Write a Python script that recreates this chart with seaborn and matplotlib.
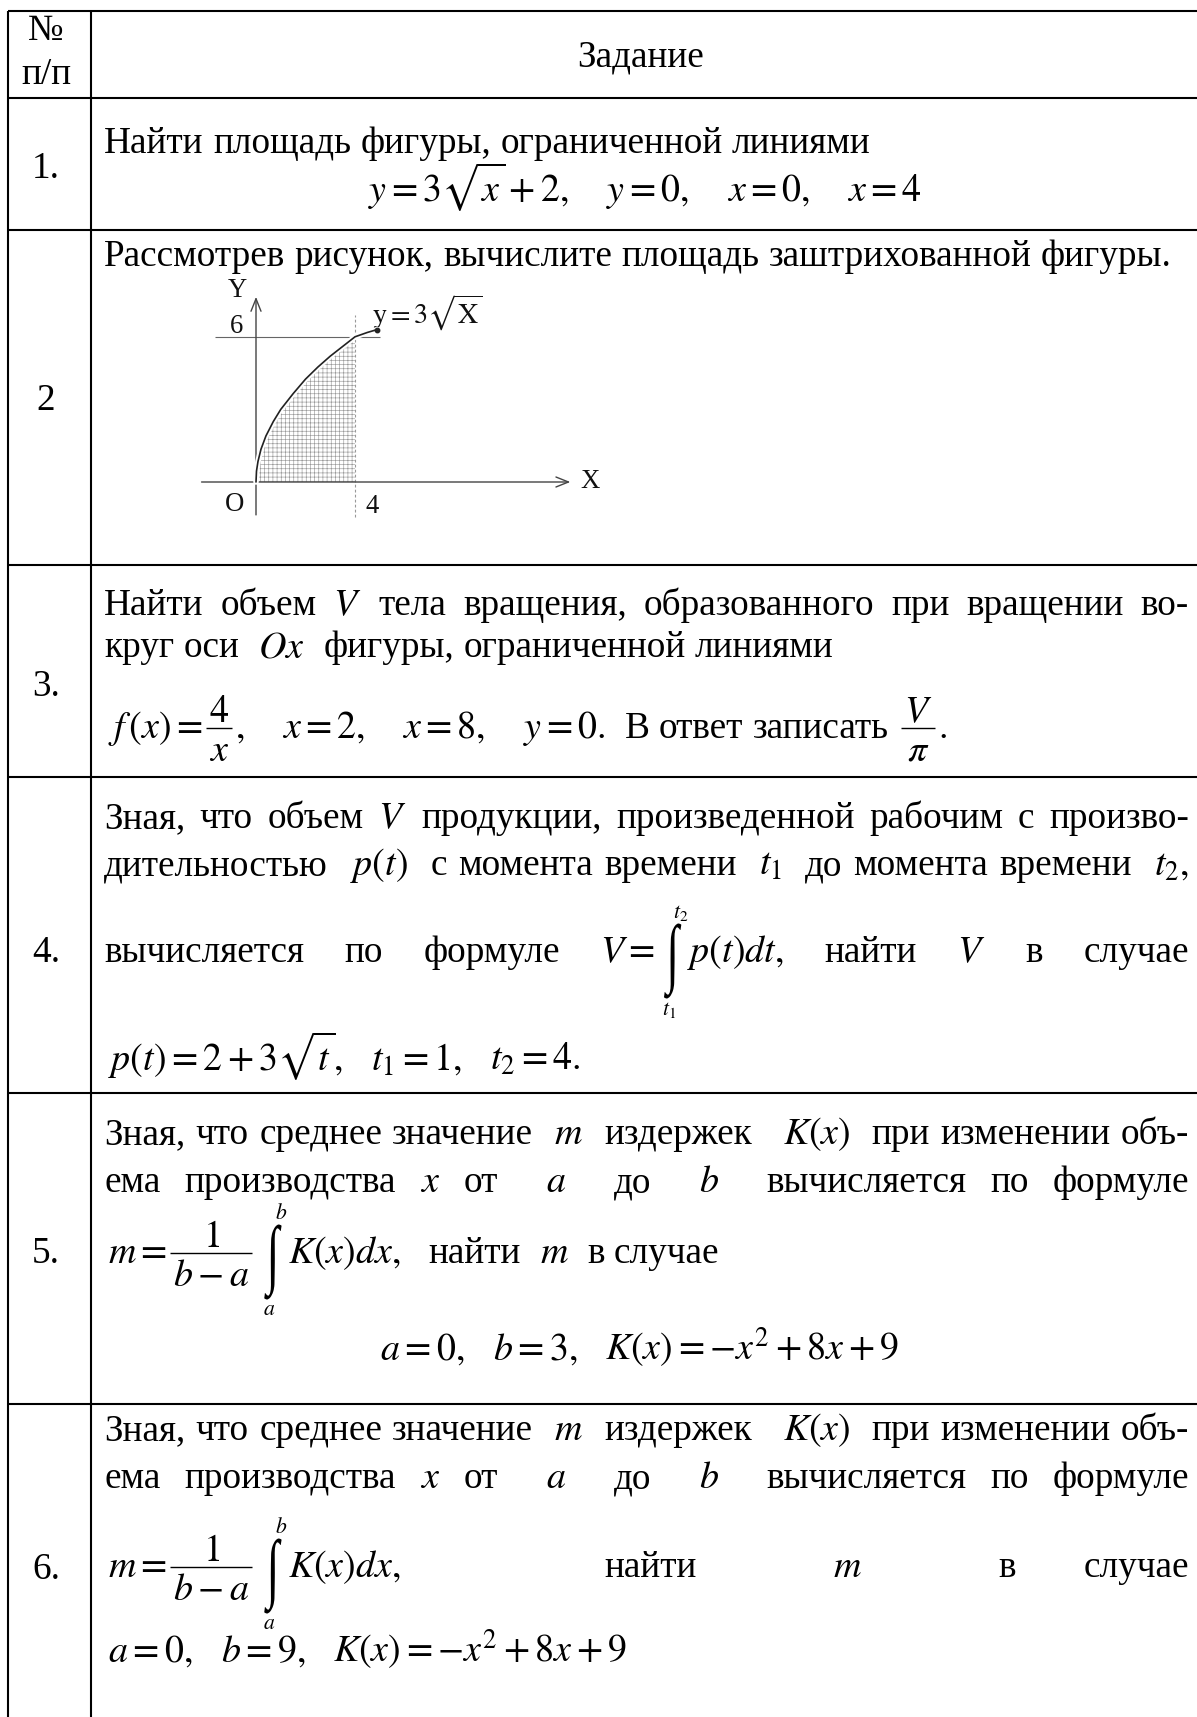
import matplotlib
matplotlib.use("Agg")
import matplotlib.pyplot as plt
import matplotlib.patheffects as pe
from matplotlib.textpath import TextPath
from matplotlib.patches import PathPatch
from matplotlib.transforms import Affine2D
from matplotlib.font_manager import FontProperties, findfont, get_font
import seaborn as sns

# ------------------------------------------------------------------ data
HEADER_NUM = ["№", "п/п"]
HEADER_TASK = "Задание"
ROW_NUMBERS = ["1.", "2", "3.", "4.", "5.", "6."]

TASK_1 = ["Найти площадь фигуры, ограниченной линиями",
          r"$y=3\sqrt{x}+2,$    $y=0,$    $x=0,$    $x=4$"]
TASK_2 = ["Рассмотрев рисунок, вычислите площадь заштрихованной фигуры."]
TASK_3 = [r"Найти объем $V$ тела вращения, образованного при вращении во-",
          r"круг оси  $Ox$  фигуры, ограниченной линиями",
          r"$f\,(x)=\,$|@frac:4,x|$,$    $x=2,$    $x=8,$    $y=0.$  В ответ записать @frac:V,\pi|$.$"]
TASK_4 = [r"Зная, что объем $V$ продукции, произведенной рабочим с произво-",
          r"дительностью  $p(t)$  с момента времени  $t_1$  до момента времени  $t_2,$",
          r"вычисляется по формуле $V=\,$|@int:t_1,t_2|$p(t)dt,$ найти $V$ в случае",
          r"$p(t)=2+3\sqrt{t},$   $t_1=1,$   $t_2=4.$"]
TASK_5 = [r"Зная, что среднее значение  $m$  издержек   $K(x)$  при изменении объ-",
          r"ема производства $x$ от  $a$  до  $b$  вычисляется по формуле",
          r"$m=\,$|@frac:1,b-a|@int:a,b|$K(x)dx,$   найти  $m$  в случае",
          r"$a=0,$   $b=3,$   $K(x)=-x^2+8x+9$"]
TASK_6 = [TASK_5[0], TASK_5[1],
          r"$m=\,$|@frac:1,b-a|@int:a,b|$K(x)dx,$   найти  $m$  в случае",
          r"$a=0,$   $b=9,$   $K(x)=-x^2+8x+9$"]
TASKS = [TASK_1, TASK_2, TASK_3, TASK_4, TASK_5, TASK_6]

# small figure of task 2
CURVE_X = [0.0, 0.02, 0.08, 0.2, 0.4, 0.7, 1.0, 1.5, 2.0, 2.5, 3.0, 3.5, 4.0, 4.5, 4.9]
CURVE_Y = [0.0, 0.45, 0.85, 1.35, 1.9, 2.5, 3.0, 3.65, 4.25, 4.75, 5.2, 5.6, 6.0, 6.18, 6.3]
SHADE_X_MAX = 4
LEVEL_Y = 6
CURVE_LABEL = r"$\mathrm{y}{=}3\sqrt{\mathrm{X}}$"
CHART_LABELS = ["Y", "X", "O", "6", "4"]

# ------------------------------------------------------------------ layout
W, H = 1197, 1717
TABLE_LEFT, COL_DIV = 8, 91
ROW_EDGES = [11, 98, 230, 565, 777, 1093, 1404]
NUM_X = 46
TEXT_X0, TEXT_X1 = 104, 1189
HEADER_BASE = [40, 84, 66]
TASK_CX = 641
ROW_NUM_BASE = [178, 410, 696, 962, 1263, 1579]
LINE_BASE = [[153, 201], [266], [615, 657, 738], [828, 875, 962, 1070],
             [1144, 1192, 1263, 1360], [1440, 1488, 1577, 1662]]
LINE_MODE = [["left", ("center", 645)], ["left"], ["justify", "left", "left"],
             ["justify", "justify", "justify", "left"],
             ["justify", "justify", "left", ("center", 640)],
             ["justify", "justify", "justify", "left"]]

# chart placement (pixels): origin and scale
OX, OY, SX, SY = 256, 482, 24.75, 24.2
BOX = (175, 262, 625, 535)  # left, top, right, bottom

sns.set_theme(style="white")
TEXT_FONT = ["Liberation Serif", "DejaVu Serif"]
plt.rcParams["font.family"] = TEXT_FONT
plt.rcParams["mathtext.fontset"] = "stix"
plt.rcParams["hatch.linewidth"] = 0.45
plt.rcParams["hatch.color"] = "#9a9a9a"

fig = plt.figure(figsize=(W / 100, H / 100), dpi=100)
fig.patch.set_facecolor("white")
ax = fig.add_axes([0, 0, 1, 1])
ax.set_xlim(0, W)
ax.set_ylim(H, 0)
ax.axis("off")
renderer = fig.canvas.get_renderer()


def measure(artist):
    bb = artist.get_window_extent(renderer=renderer)
    return bb.width, bb.height


def txt(x, y, s, size, **kw):
    kw.setdefault("va", "baseline")
    kw.setdefault("ha", "left")
    return ax.text(x, y, s, fontsize=size, family=TEXT_FONT, color="black", **kw)


# font size calibrated on the sentence of task 2 (1070 px wide in the reference)
_t = txt(0, 0, TASK_2[0], 20)
FS = 20 * 1070 / measure(_t)[0]
_t.remove()
MFS = FS * 1.02
_a = txt(0, 0, "a a", FS); _b = txt(0, 0, "aa", FS)
SPACE_W = measure(_a)[0] - measure(_b)[0]
_a.remove(); _b.remove()
FS_LIM = FS * 0.58
INT_H = 75
INT_RAISE = 1
INT_XSCALE = 0.6
FRAC_AXIS = 10


def integral_font():
    for fam in ["Liberation Serif", "DejaVu Serif"]:
        fp = FontProperties(family=fam)
        try:
            if get_font(findfont(fp)).get_char_index(0x222B):
                return fp
        except Exception:
            pass
    return FontProperties(family="DejaVu Sans")


INT_PATH = TextPath((0, 0), "\u222b", size=100, prop=integral_font())
_ext = INT_PATH.get_extents()
INT_SY = INT_H / _ext.height
INT_SX = INT_SY * INT_XSCALE
INT_W = _ext.width * INT_SX


def tokenize(s):
    toks, sp = [], []
    cur, inm = "", False
    for ch in s:
        if ch == "$":
            inm = not inm
            cur += ch
        elif not inm and ch in " |":
            if cur:
                toks.append(cur); sp.append(0); cur = ""
            if ch == " " and sp:
                sp[-1] += 1
        else:
            cur += ch
    if cur:
        toks.append(cur); sp.append(0)
    return toks, sp


def build_token(tok, base):
    if tok.startswith("@int:"):
        lo, hi = tok[5:].split(",")
        cy = base - INT_RAISE
        pad_l, pad_r = 9, 6

        def draw(x):
            tr = (Affine2D().translate(-_ext.x0, -(_ext.y0 + _ext.y1) / 2)
                  .scale(INT_SX, -INT_SY).translate(x + pad_l, cy))
            ax.add_patch(PathPatch(tr.transform_path(INT_PATH), fc="black", lw=0))
            txt(x + pad_l + INT_W * 0.3, cy + INT_H / 2 + 1, f"${lo}$", FS_LIM,
                va="top", ha="center")
            txt(x + pad_l + INT_W * 0.95, cy - INT_H / 2 - 1, f"${hi}$", FS_LIM,
                va="bottom", ha="center")
        return pad_l + INT_W + pad_r, draw
    if tok.startswith("@frac:"):
        num, den = tok[6:].split(",", 1)
        bar_y = base - FRAC_AXIS
        tn = txt(0, bar_y - 6, f"${num}$", MFS, ha="center")
        td = txt(0, bar_y + 6, f"${den}$", MFS, ha="center", va="top")
        w = max(measure(tn)[0], measure(td)[0]) + 12

        def draw(x):
            cx = x + w / 2
            tn.set_x(cx)
            td.set_x(cx)
            ax.hlines(bar_y, x + 3, x + w - 3, color="black", lw=1.0)
        return w, draw
    size = MFS if "$" in tok else FS
    t = txt(0, base, tok, size)

    def draw(x):
        t.set_x(x)
    return measure(t)[0], draw


def place_line(text, base, mode):
    toks, sp = tokenize(text)
    built = [build_token(t, base) for t in toks]
    widths = [b[0] for b in built]
    gaps = sp[:-1]
    x0 = TEXT_X0 + (4 if text.startswith("$") else 0)
    unit = SPACE_W
    if mode == "justify" and sum(gaps) > 0:
        unit = (TEXT_X1 - x0 - sum(widths)) / sum(gaps)
    if isinstance(mode, tuple):
        total = sum(widths) + unit * sum(gaps)
        x0 = mode[1] - total / 2
    x = x0
    for (w, draw), n in zip(built, sp):
        draw(x)
        x += w + n * unit


# ---------------------------------------------------------------- table
ax.hlines(ROW_EDGES, TABLE_LEFT, W + 5, color="black", lw=1.5)
ax.vlines([TABLE_LEFT, COL_DIV], ROW_EDGES[0], H + 5, color="black", lw=1.5)

txt(NUM_X, HEADER_BASE[0], HEADER_NUM[0], FS, ha="center")
txt(NUM_X, HEADER_BASE[1], HEADER_NUM[1], FS, ha="center")
txt(TASK_CX, HEADER_BASE[2], HEADER_TASK, FS, ha="center")

for num, nb in zip(ROW_NUMBERS, ROW_NUM_BASE):
    txt(NUM_X, nb, num, FS, ha="center")

for lines, bases, modes in zip(TASKS, LINE_BASE, LINE_MODE):
    for s, b, m in zip(lines, bases, modes):
        place_line(s, b, m)

# ---------------------------------------------------------------- chart
l, t, r, b = BOX
axc = fig.add_axes([l / W, 1 - b / H, (r - l) / W, (b - t) / H])
axc.set_xlim((l - OX) / SX, (r - OX) / SX)
axc.set_ylim((OY - b) / SY, (OY - t) / SY)
axc.axis("off")
axc.patch.set_alpha(0)

n_shade = sum(1 for v in CURVE_X if v <= SHADE_X_MAX)
axc.fill_between(CURVE_X[:n_shade], 0, CURVE_Y[:n_shade], facecolor="white",
                 edgecolor="#9a9a9a", hatch="++++", linewidth=0, zorder=1)
axc.hlines(LEVEL_Y, -1.65, 5.0, color="#666666", lw=0.8, zorder=2)
axc.vlines(SHADE_X_MAX, -1.45, 6.9, color="#999999", lw=0.8,
           linestyles=(0, (2.5, 2)), zorder=2)
arrow = dict(arrowstyle="->,head_length=0.45,head_width=0.18", lw=1.0,
             color="#444444", shrinkA=0, shrinkB=0, mutation_scale=20)
axc.annotate("", xy=(12.7, 0), xytext=(-2.2, 0), arrowprops=arrow, zorder=3)
axc.annotate("", xy=(0, 7.65), xytext=(0, -1.36), arrowprops=arrow, zorder=3)
sns.lineplot(x=CURVE_X, y=CURVE_Y, ax=axc, color="#222222", lw=1.2, sort=False,
             estimator=None, zorder=4,
             path_effects=[pe.Stroke(linewidth=4, foreground="white"), pe.Normal()])
axc.plot(CURVE_X[-1:], CURVE_Y[-1:], "o", ms=3.2, color="#222222", zorder=5)

CFS = FS * 0.72
label_pos = {"Y": (-0.75, 7.9), "X": (13.5, 0.0), "O": (-0.85, -0.95),
             "6": (-0.77, 6.42), "4": (4.7, -1.03)}
for lab in CHART_LABELS:
    x, y = label_pos[lab]
    axc.text(x, y, lab, fontsize=CFS, family=TEXT_FONT, ha="center", va="center",
             color="#111111")
axc.text(4.7, 7.0, CURVE_LABEL, fontsize=CFS * 1.05, ha="left", va="center",
         color="#111111")

fig.savefig("out.png", dpi=100, facecolor="white")
